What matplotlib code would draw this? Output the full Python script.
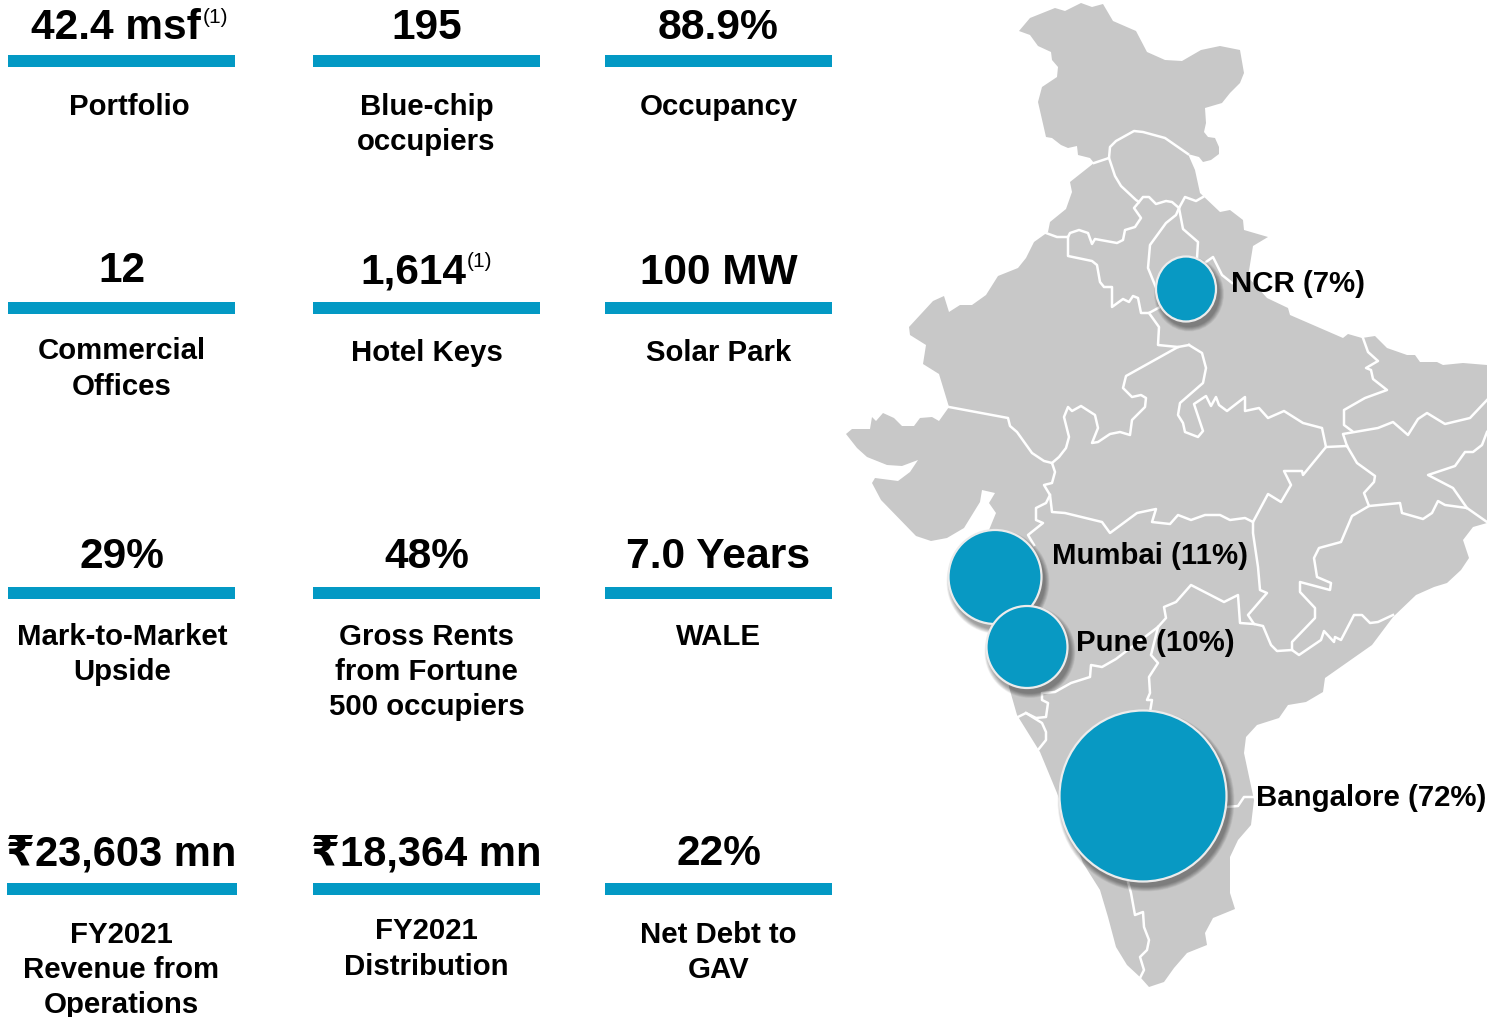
import matplotlib
matplotlib.use("Agg")
import matplotlib.pyplot as plt
from matplotlib.patches import Ellipse, Polygon

plt.rcParams['font.family'] = ['Liberation Sans', 'DejaVu Sans']

# kpi tiles, read left to right, top to bottom
headlines = ["42.4 msf", "195", "88.9%",
             "12", "1,614", "100 MW",
             "29%", "48%", "7.0 Years",
             "₹23,603 mn", "₹18,364 mn", "22%"]
captions = [["Portfolio"], ["Blue-chip", "occupiers"], ["Occupancy"],
            ["Commercial", "Offices"], ["Hotel Keys"], ["Solar Park"],
            ["Mark-to-Market", "Upside"], ["Gross Rents", "from Fortune", "500 occupiers"], ["WALE"],
            ["FY2021", "Revenue from", "Operations"], ["FY2021", "Distribution"], ["Net Debt to", "GAV"]]
headline_x = [129, 426.5, 718.5, 122, 426.5, 718.5, 122, 426.5, 718.5, 121.5, 426.5, 718.5]
caption_x = [129, 426.5, 719, 122, 426.5, 718.5, 122, 426.5, 718.5, 121.5, 426.5, 718.5]
headline_base = [39, 39, 39, 282, 284, 284, 568, 568, 568, 865, 865, 865]
headline_size = [30.5, 30.5, 30.7, 30.5, 30.5, 30.5, 30.5, 30.5, 30.7, 30, 30, 30.5]
caption_base = [115, 115, 115, 359, 361, 361, 645, 645, 645, 943, 939, 943]
caption_gap = [35, 35, 35, 36, 35, 35, 35, 35, 35, 35, 36, 35]
bar_left = [8, 313, 605, 8, 313, 605, 8, 313, 605, 7, 313, 605]
bar_right = [235, 540, 832, 235, 540, 832, 235, 540, 832, 237, 540, 832]
bar_top = [55, 55, 55, 302, 302, 302, 587, 587, 587, 883, 883, 883]

# footnote marks next to two headlines
note_marks = ["(1)", "(1)"]
note_x = [215, 480]
note_y = [23, 267]

# cities on the map
cities = ["NCR (7%)", "Mumbai (11%)", "Pune (10%)", "Bangalore (72%)"]
city_x = [1186, 995, 1027, 1143]
city_y = [289, 577, 647, 796]
city_w = [60, 93, 81, 167]
city_h = [65, 94, 82, 171]
label_x = [1231, 1052, 1076, 1256]
label_y = [292, 564, 651, 806]

india_outline = [
    (1019, 31), (1030, 18), (1055, 8), (1065, 11), (1081, 3), (1092, 7), (1103, 4), (1113, 21),
    (1136, 31), (1147, 52), (1165, 60), (1182, 61), (1201, 50), (1220, 46), (1240, 50), (1244, 73),
    (1240, 83), (1230, 93), (1222, 103), (1205, 108), (1206, 123), (1204, 132), (1208, 137), (1215, 138),
    (1219, 147), (1219, 154), (1211, 160), (1203, 162), (1199, 157), (1188, 154), (1195, 170), (1200, 193),
    (1220, 212), (1230, 210), (1243, 220), (1244, 230), (1268, 237), (1253, 246), (1248, 277), (1267, 298),
    (1288, 308), (1290, 315), (1343, 338), (1348, 334), (1362, 338), (1375, 336), (1387, 348), (1407, 355),
    (1415, 355), (1420, 362), (1437, 362), (1443, 365), (1463, 363), (1487, 365), (1487, 523), (1473, 527),
    (1463, 540), (1469, 558), (1461, 570), (1447, 583), (1434, 587), (1416, 595), (1393, 617), (1372, 645),
    (1325, 678), (1323, 692), (1306, 702), (1288, 705), (1279, 718), (1257, 725), (1246, 737), (1244, 753),
    (1254, 800), (1251, 825), (1238, 840), (1230, 857), (1230, 893), (1235, 909), (1213, 918), (1205, 933),
    (1207, 945), (1187, 953), (1174, 968), (1164, 982), (1149, 987), (1141, 978), (1127, 965), (1116, 947),
    (1108, 917), (1100, 890), (1083, 863), (1057, 793), (1040, 752), (1017, 715), (1009, 687), (989, 530),
    (996, 513), (989, 503), (995, 493), (982, 490), (980, 502), (964, 528), (947, 538), (931, 541),
    (916, 536), (881, 500), (872, 483), (875, 478), (898, 481), (910, 472), (918, 460), (902, 466),
    (887, 465), (867, 457), (857, 448), (846, 434), (852, 429), (870, 429), (872, 417), (876, 421),
    (883, 413), (894, 418), (902, 426), (914, 426), (920, 418), (932, 417), (939, 421), (949, 407),
    (939, 374), (923, 364), (926, 345), (910, 335), (909, 327), (933, 301), (944, 296), (949, 312),
    (960, 305), (972, 305), (986, 295), (998, 276), (1018, 268), (1026, 258), (1034, 242), (1048, 232),
    (1050, 222), (1066, 209), (1072, 192), (1070, 182), (1094, 163), (1090, 158), (1078, 155), (1077, 146),
    (1068, 148), (1061, 145), (1052, 138), (1046, 137), (1038, 102), (1042, 87), (1057, 77), (1058, 67),
    (1052, 60), (1051, 52), (1038, 46), (1030, 35)]

state_lines = [
    [(1094, 163), (1109, 158), (1110, 147), (1116, 141), (1134, 131), (1143, 132), (1165, 138), (1188, 154)],
    [(1109, 158), (1115, 176), (1121, 186), (1136, 200), (1139, 202), (1134, 208), (1141, 218), (1135, 227),
     (1125, 230), (1123, 240), (1117, 243), (1095, 239), (1092, 244), (1088, 233), (1079, 230), (1070, 233),
     (1068, 237), (1057, 237), (1046, 233)],
    [(1139, 202), (1143, 197), (1149, 197), (1156, 204), (1166, 201), (1172, 202), (1179, 208), (1185, 197),
     (1196, 201), (1203, 197)],
    [(1179, 208), (1183, 229), (1198, 242), (1197, 258)],
    [(1179, 208), (1176, 215), (1166, 223), (1150, 245), (1148, 268), (1157, 290)],
    [(1206, 262), (1213, 257), (1222, 275), (1232, 283)],
    [(1068, 237), (1068, 256), (1092, 261), (1097, 265), (1100, 282), (1104, 287), (1112, 287), (1112, 307),
     (1123, 299), (1129, 302), (1133, 296), (1138, 298), (1141, 313), (1149, 313), (1160, 307)],
    [(1149, 313), (1159, 327), (1158, 345), (1178, 347)],
    [(1189, 345), (1178, 347), (1126, 376), (1123, 388), (1132, 397), (1141, 395), (1146, 398), (1145, 407),
     (1132, 420), (1130, 435), (1120, 432), (1110, 434), (1098, 442), (1092, 443), (1098, 428), (1095, 415),
     (1081, 406), (1072, 411), (1068, 407), (1064, 417), (1069, 437), (1066, 448), (1059, 457), (1052, 463)],
    [(1189, 345), (1202, 353), (1206, 368), (1203, 383), (1180, 403), (1178, 415), (1183, 423), (1185, 432),
     (1198, 437), (1203, 431), (1194, 404), (1206, 396), (1211, 406), (1216, 397), (1219, 405), (1227, 411),
     (1245, 397), (1245, 411), (1259, 408), (1268, 418), (1284, 411), (1303, 423), (1322, 428), (1326, 447),
     (1347, 446)],
    [(1326, 447), (1303, 475), (1302, 471), (1284, 471), (1291, 485), (1281, 502), (1268, 494), (1253, 522),
     (1245, 518), (1230, 520), (1220, 515), (1205, 515), (1191, 520), (1178, 515), (1170, 524), (1152, 522),
     (1156, 509), (1137, 513), (1110, 533), (1102, 522), (1065, 513), (1052, 512), (1050, 495)],
    [(1253, 522), (1253, 533), (1258, 567), (1260, 590), (1267, 593), (1248, 615), (1254, 624), (1263, 626),
     (1271, 645), (1277, 651), (1292, 650)],
    [(1347, 446), (1343, 434), (1378, 428), (1393, 422), (1408, 435), (1418, 419), (1427, 413), (1445, 424),
     (1470, 418), (1487, 400)],
    [(1352, 431), (1344, 425), (1344, 410), (1365, 398), (1387, 390), (1373, 379), (1371, 370), (1366, 368),
     (1378, 361), (1368, 352), (1363, 338)],
    [(1347, 446), (1357, 463), (1375, 476), (1374, 482), (1364, 493), (1369, 506), (1400, 503), (1402, 513),
     (1423, 519), (1432, 513), (1438, 501), (1445, 505), (1467, 508), (1487, 522)],
    [(1467, 508), (1453, 488), (1428, 475), (1455, 466), (1465, 452), (1473, 452), (1482, 445), (1487, 432)],
    [(1369, 506), (1352, 516), (1341, 542), (1319, 548), (1314, 558), (1317, 577), (1331, 583), (1330, 590),
     (1300, 582), (1300, 592), (1315, 608), (1315, 618), (1292, 642), (1292, 650), (1299, 655), (1321, 640),
     (1324, 631), (1334, 642), (1335, 637), (1341, 640), (1354, 615), (1362, 615), (1370, 623), (1378, 622),
     (1393, 615)],
    [(1254, 624), (1240, 623), (1238, 595), (1224, 602), (1191, 585), (1176, 602), (1164, 607), (1166, 618),
     (1158, 627), (1137, 643), (1116, 659), (1102, 667), (1091, 665), (1090, 677), (1071, 683), (1055, 692),
     (1042, 693), (1042, 700), (1048, 703), (1046, 717), (1036, 718), (1026, 713), (1018, 717)],
    [(1026, 713), (1042, 723), (1046, 732), (1046, 740), (1038, 750)],
    [(1158, 627), (1151, 655), (1158, 663), (1149, 677), (1150, 693), (1147, 700), (1152, 700), (1150, 712)],
    [(1226, 807), (1238, 806), (1244, 797), (1254, 797)],
    [(1128, 882), (1131, 893), (1135, 915), (1143, 912), (1144, 927), (1149, 940), (1147, 950), (1140, 957),
     (1144, 970), (1140, 978)],
    [(949, 407), (1008, 418), (1010, 426), (1017, 432), (1032, 453), (1044, 461), (1052, 463), (1055, 472),
     (1052, 483), (1044, 485), (1050, 495), (1046, 503), (1036, 508), (1036, 520), (1043, 523), (1028, 535),
     (1034, 545)]]

BLUE = '#0399c4'
GREY = '#c8c8c8'

fig = plt.figure(figsize=(14.87, 10.17), dpi=100)
ax = fig.add_axes([0, 0, 1, 1])
ax.set_xlim(0, 1487)
ax.set_ylim(1017, 0)
ax.axis('off')

# map
ax.add_patch(Polygon(india_outline, closed=True, facecolor=GREY, edgecolor='none', zorder=1))
for line in state_lines:
    ax.plot([p[0] for p in line], [p[1] for p in line], color='white', lw=1.8,
            solid_joinstyle='round', zorder=2)

# city bubbles with a soft shadow
for i in range(len(cities)):
    for grow in range(10, 0, -1):
        ax.add_patch(Ellipse((city_x[i] + 3, city_y[i] + 5), city_w[i] + grow, city_h[i] + grow,
                             facecolor='black', edgecolor='none', alpha=0.045, zorder=3 + i))
    ax.add_patch(Ellipse((city_x[i], city_y[i]), city_w[i], city_h[i], facecolor='#0899c3',
                         edgecolor='#ececec', lw=1.6, zorder=3 + i))
    ax.text(label_x[i], label_y[i], cities[i], fontsize=21.2, fontweight='bold', ha='left',
            va='baseline', color='black', zorder=10)

# kpi tiles
for i in range(len(headlines)):
    ax.barh(bar_top[i] + 6, bar_right[i] - bar_left[i], height=12, left=bar_left[i], color=BLUE, zorder=2)
    # the two footnoted headlines sit left of their mark
    if headlines[i] == "42.4 msf":
        ax.text(31, headline_base[i], headlines[i], fontsize=headline_size[i], fontweight='bold',
                ha='left', va='baseline')
    elif headlines[i] == "1,614":
        ax.text(360, headline_base[i], headlines[i], fontsize=headline_size[i], fontweight='bold',
                ha='left', va='baseline')
    else:
        ax.text(headline_x[i], headline_base[i], headlines[i], fontsize=headline_size[i], fontweight='bold',
                ha='center', va='baseline')
    for j, line in enumerate(captions[i]):
        ax.text(caption_x[i], caption_base[i] + j * caption_gap[i], line, fontsize=21.2, fontweight='bold',
                ha='center', va='baseline')

for i in range(len(note_marks)):
    ax.text(note_x[i], note_y[i], note_marks[i], fontsize=15, ha='center', va='baseline')

fig.savefig('out.png', dpi=100, facecolor='white')
